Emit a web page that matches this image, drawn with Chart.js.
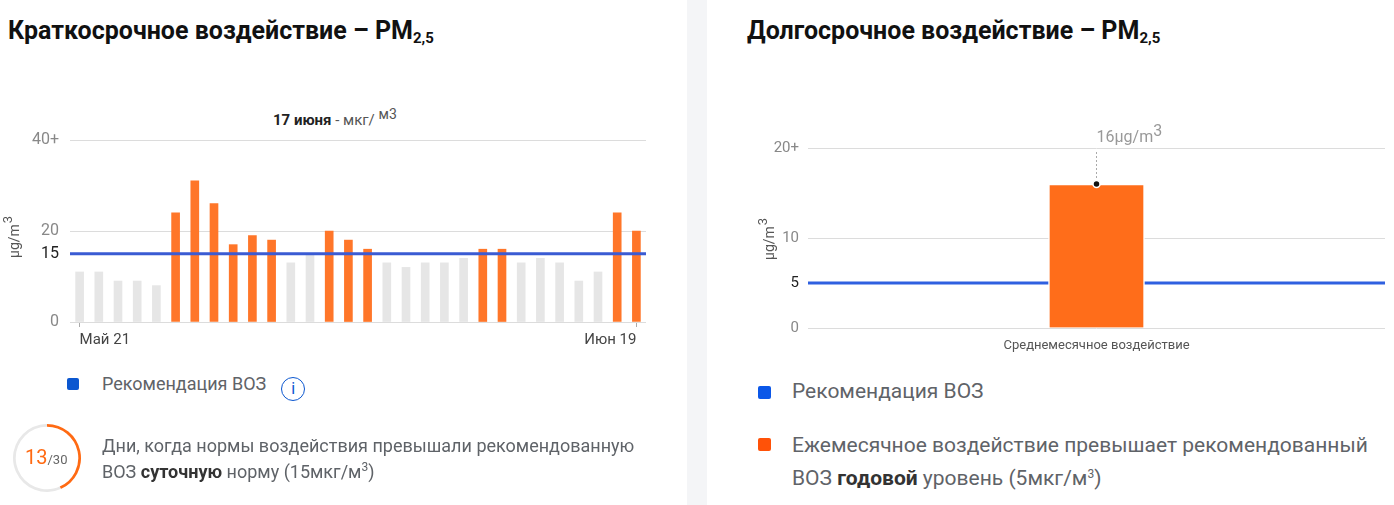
<!DOCTYPE html>
<html lang="ru">
<head>
    <meta charset="UTF-8">
    <title>PM2,5</title>
    <script src="https://cdn.jsdelivr.net/npm/chart.js"></script>
    <style>
        body {
            margin: 0;
            width: 1394px;
            height: 505px;
            background: #fff;
            font-family: 'Roboto', sans-serif;
            position: relative;
            overflow: hidden;
        }
        .divider {
            position: absolute;
            left: 687px;
            top: 0;
            width: 20px;
            height: 505px;
            background: #f4f5f7;
        }
        h2 {
            position: absolute;
            margin: 0;
            top: 16px;
            font-size: 25px;
            line-height: 30px;
            font-weight: 700;
            color: #111;
            white-space: nowrap;
        }
        h2 sub { font-size: 15px; vertical-align: -4px; line-height: 0; }
        canvas { position: absolute; }
        .day-title {
            position: absolute;
            top: 111px;
            left: 273px;
            font-size: 15px;
            color: #555;
            white-space: nowrap;
        }
        .day-title b { color: #222; font-weight: 700; }
        .day-title sup { font-size: 14px; vertical-align: 6px; line-height: 0; }
        .legend {
            position: absolute;
            color: #5f6368;
            white-space: nowrap;
        }
        .sq {
            position: absolute;
            border-radius: 2px;
        }
        .info {
            display: inline-block;
            width: 22px;
            height: 22px;
            border: 1.8px solid #0b57d0;
            border-radius: 50%;
            color: #0b57d0;
            font-size: 16px;
            line-height: 22px;
            text-align: center;
            margin-left: 15px;
            vertical-align: -4px;
        }
        .count {
            position: absolute;
            left: 25px;
            top: 445px;
            color: #ff6a13;
            font-size: 20px;
        }
        .count span { color: #666; font-size: 13px; }
        sup.s { font-size: 12px; vertical-align: 7px; line-height: 0; }
    </style>
</head>
<body>
    <h2 style="left:8px">Краткосрочное воздействие – PM<sub>2,5</sub></h2>
    <h2 style="left:747px">Долгосрочное воздействие – PM<sub>2,5</sub></h2>
    <div class="divider"></div>

    <div class="day-title"><b>17 июня</b> - мкг/ <sup>м3</sup></div>
    <canvas id="shortChart" width="660" height="260" style="left:0;top:100px"></canvas>

    <div class="sq" style="left:67px;top:378px;width:12px;height:12px;background:#0b57d0"></div>
    <div class="legend" style="left:102px;top:373px;font-size:18px">Рекомендация ВОЗ<span class="info">i</span></div>

    <canvas id="daysChart" width="70" height="70" style="left:12px;top:423px"></canvas>
    <div class="count">13<span>/30</span></div>
    <div class="legend" style="left:102px;top:433px;font-size:18px;line-height:26px">
        Дни, когда нормы воздействия превышали рекомендованную<br>
        ВОЗ <b style="color:#333">суточную</b> норму (15мкг/м<sup class="s">3</sup>)
    </div>

    <canvas id="longChart" width="687" height="260" style="left:707px;top:100px"></canvas>

    <div class="sq" style="left:758px;top:386px;width:13px;height:13px;background:#0b57e8"></div>
    <div class="legend" style="left:792px;top:379px;font-size:21px">Рекомендация ВОЗ</div>
    <div class="sq" style="left:758px;top:438px;width:13px;height:13px;background:#ff5208"></div>
    <div class="legend" style="left:792px;top:429px;font-size:21px;line-height:33px">
        Ежемесячное воздействие превышает рекомендованный<br>
        ВОЗ <b style="color:#333">годовой</b> уровень (5мкг/м<sup class="s">3</sup>)
    </div>

    <script>
        // daily values, May 21 - Jun 19
        const days = ["Май 21", "Май 22", "Май 23", "Май 24", "Май 25", "Май 26", "Май 27", "Май 28",
            "Май 29", "Май 30", "Май 31", "Июн 1", "Июн 2", "Июн 3", "Июн 4", "Июн 5", "Июн 6", "Июн 7",
            "Июн 8", "Июн 9", "Июн 10", "Июн 11", "Июн 12", "Июн 13", "Июн 14", "Июн 15", "Июн 16",
            "Июн 17", "Июн 18", "Июн 19"];
        const dailyPm = [11, 11, 9, 9, 8, 24, 31, 26, 17, 19, 18, 13, 15, 20, 18, 16, 13, 12, 13, 13,
            14, 16, 16, 13, 14, 13, 9, 11, 24, 20];
        const dailyTicks = [0, 15, 20, 40];
        const whoDaily = 15;

        const monthCategories = ["Среднемесячное воздействие"];
        const monthlyPm = [16];
        const monthlyTicks = [0, 5, 10, 20];
        const whoYearly = 5;

        const daysOver = 13;
        const daysTotal = 30;

        Chart.defaults.font.family = "Roboto";
        Chart.defaults.animation = false;

        // horizontal WHO line across the plot, drawn at a value on the y scale
        function whoLine(value, color, front) {
            const draw = (chart) => {
                const {ctx, chartArea, scales} = chart;
                const y = scales.y.getPixelForValue(value);
                ctx.save();
                ctx.strokeStyle = color;
                ctx.lineWidth = 3;
                ctx.beginPath();
                ctx.moveTo(chartArea.left, y);
                ctx.lineTo(chartArea.right, y);
                ctx.stroke();
                ctx.restore();
            };
            return front ? {id: 'who', afterDatasetsDraw: draw} : {id: 'who', beforeDatasetsDraw: draw};
        }

        // rotated "µg/m³" unit at the left side
        function unitTitle(x, y) {
            return {
                id: 'unit',
                afterDraw(chart) {
                    const ctx = chart.ctx;
                    ctx.save();
                    ctx.translate(x, y);
                    ctx.rotate(-Math.PI / 2);
                    ctx.fillStyle = '#555';
                    ctx.font = '14px Roboto';
                    ctx.textBaseline = 'middle';
                    ctx.fillText('µg/m', 0, 0);
                    const w = ctx.measureText('µg/m').width;
                    ctx.font = '13px Roboto';
                    ctx.fillText('3', w + 1, -6);
                    ctx.restore();
                }
            };
        }

        new Chart(document.getElementById('shortChart'), {
            type: 'bar',
            data: {
                labels: days,
                datasets: [{
                    data: dailyPm,
                    backgroundColor: dailyPm.map(v => v > whoDaily ? '#ff7629' : '#e6e6e6'),
                    barThickness: 8
                }]
            },
            options: {
                responsive: false,
                layout: {padding: {top: 40, right: 14, left: 0, bottom: 0}},
                plugins: {legend: {display: false}, tooltip: {enabled: false}},
                scales: {
                    x: {
                        grid: {
                            offset: false,
                            drawOnChartArea: false,
                            tickLength: 5,
                            color: ctx => (ctx.index === 0 || ctx.index === days.length - 1) ? '#aaa' : 'rgba(0,0,0,0)'
                        },
                        border: {display: false},
                        ticks: {
                            autoSkip: false,
                            maxRotation: 0,
                            align: 'inner',
                            padding: 4,
                            color: '#444',
                            font: {size: 15},
                            callback: (v, i) => (i === 0 || i === days.length - 1) ? days[i] : ''
                        },
                        afterFit: s => { s.height = 38; }
                    },
                    y: {
                        min: 0,
                        max: 40,
                        afterBuildTicks: s => { s.ticks = dailyTicks.map(v => ({value: v})); },
                        grid: {
                            drawTicks: false,
                            color: ctx => ctx.tick.value === whoDaily ? 'rgba(0,0,0,0)' : '#dcdcdc'
                        },
                        border: {display: false},
                        ticks: {
                            padding: 11,
                            font: {size: 16},
                            color: ctx => ctx.tick.value === whoDaily ? '#222' : '#888',
                            callback: v => v === 40 ? '40+' : v
                        },
                        afterFit: s => { s.width = 70; }
                    }
                }
            },
            plugins: [whoLine(whoDaily, '#3a5bd3', true), unitTitle(15, 158)]
        });

        new Chart(document.getElementById('longChart'), {
            type: 'bar',
            data: {
                labels: monthCategories,
                datasets: [{
                    data: monthlyPm,
                    backgroundColor: '#ff6d1a',
                    borderColor: '#fff',
                    borderWidth: 1.5,
                    barThickness: 96
                }]
            },
            options: {
                responsive: false,
                layout: {padding: {top: 48, right: 9, left: 0, bottom: 0}},
                plugins: {legend: {display: false}, tooltip: {enabled: false}},
                scales: {
                    x: {
                        grid: {display: false, drawTicks: false},
                        border: {display: false},
                        ticks: {padding: 10, color: '#555', font: {size: 13}},
                        afterFit: s => { s.height = 32; }
                    },
                    y: {
                        min: 0,
                        max: 20,
                        afterBuildTicks: s => { s.ticks = monthlyTicks.map(v => ({value: v})); },
                        grid: {
                            drawTicks: false,
                            color: ctx => ctx.tick.value === whoYearly ? 'rgba(0,0,0,0)' : '#dcdcdc'
                        },
                        border: {display: false},
                        ticks: {
                            padding: 9,
                            font: {size: 15},
                            color: ctx => ctx.tick.value === whoYearly ? '#222' : '#888',
                            callback: v => v === 20 ? '20+' : v
                        },
                        afterFit: s => { s.width = 101; }
                    }
                }
            },
            plugins: [
                whoLine(whoYearly, '#2f60e0', false),
                unitTitle(63, 160),
                {
                    id: 'valueMark',
                    afterDatasetsDraw(chart) {
                        const {ctx} = chart;
                        const bar = chart.getDatasetMeta(0).data[0];
                        const top = chart.chartArea.top;
                        ctx.save();
                        ctx.strokeStyle = '#aaa';
                        ctx.lineWidth = 1;
                        ctx.setLineDash([2, 2]);
                        ctx.beginPath();
                        ctx.moveTo(bar.x, top + 4);
                        ctx.lineTo(bar.x, bar.y);
                        ctx.stroke();
                        ctx.setLineDash([]);
                        ctx.beginPath();
                        ctx.arc(bar.x, bar.y, 3.5, 0, Math.PI * 2);
                        ctx.fillStyle = '#111';
                        ctx.fill();
                        ctx.strokeStyle = '#fff';
                        ctx.lineWidth = 1.5;
                        ctx.stroke();
                        ctx.fillStyle = '#999';
                        ctx.font = '16px Roboto';
                        ctx.textBaseline = 'alphabetic';
                        const txt = monthlyPm[0] + 'µg/m';
                        ctx.fillText(txt, bar.x, top - 6);
                        const w = ctx.measureText(txt).width;
                        ctx.fillText('3', bar.x + w, top - 12);
                        ctx.restore();
                    }
                }
            ]
        });

        new Chart(document.getElementById('daysChart'), {
            type: 'doughnut',
            data: {
                datasets: [{
                    data: [daysOver, daysTotal - daysOver],
                    backgroundColor: ['#ff6a13', '#e8e8e8'],
                    borderWidth: 0
                }]
            },
            options: {
                responsive: false,
                cutout: '92%',
                layout: {padding: 1},
                plugins: {legend: {display: false}, tooltip: {enabled: false}}
            }
        });
    </script>
</body>
</html>
